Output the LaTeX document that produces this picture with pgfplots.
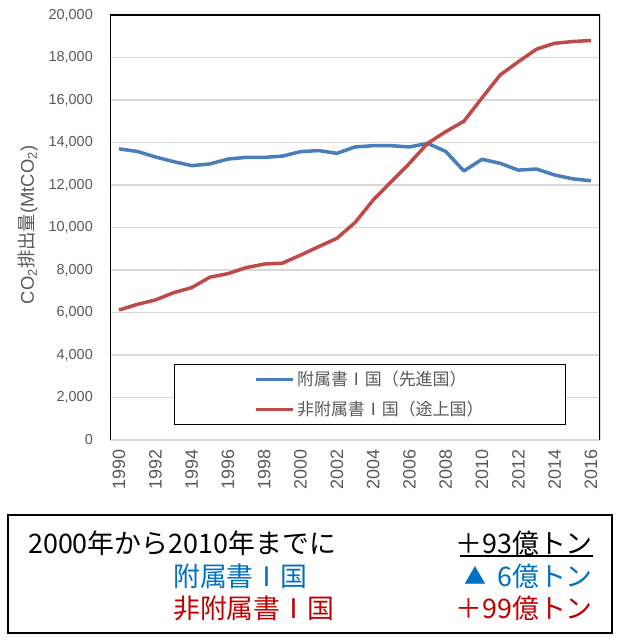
\documentclass[border=0pt]{standalone}
\usepackage{fontspec}
\setmainfont{Liberation Sans}
\newfontfamily\jp{Noto Sans CJK JP}
\usepackage{pgfplots}
\usepackage{pgfplotstable}
\pgfplotsset{compat=1.18}

\definecolor{annexI}{HTML}{4A7EBB}
\definecolor{nonannexI}{HTML}{BE4B48}
\definecolor{txtgray}{HTML}{595959}
\definecolor{gridgray}{HTML}{D9D9D9}
\definecolor{boxblue}{HTML}{0070C0}
\definecolor{boxred}{HTML}{C00000}

% CO2 emissions (MtCO2)
\pgfplotstableread{
year annexI nonannexI
1990 13700 6120
1991 13580 6380
1992 13320 6590
1993 13100 6930
1994 12910 7170
1995 12990 7660
1996 13220 7830
1997 13300 8110
1998 13300 8280
1999 13360 8320
2000 13570 8700
2001 13620 9100
2002 13490 9490
2003 13790 10230
2004 13850 11290
2005 13850 12160
2006 13790 13020
2007 13960 13960
2008 13580 14510
2009 12660 15000
2010 13210 16100
2011 13020 17180
2012 12700 17800
2013 12750 18390
2014 12470 18670
2015 12290 18750
2016 12200 18800
}\emis

\begin{document}
\begin{tikzpicture}
\path[use as bounding box] (0,0) rectangle (618bp,642bp);
\begin{axis}[
    at={(110bp,202bp)}, anchor=south west,
    scale only axis, width=490bp, height=425bp,
    xmin=1989.5, xmax=2016.5, ymin=0, ymax=20000,
    xtick={1990,1992,...,2016}, ytick={0,2000,...,20000},
    scaled y ticks=false,
    major tick length=0pt,
    axis line style={draw=none},
    ymajorgrids, grid style={gridgray, line width=1.3bp},
    /pgf/number format/assume math mode=true,
    /pgf/number format/.cd, fixed, 1000 sep={,}, /pgfplots/.cd,
    xticklabel={\pgfmathprintnumber[1000 sep={},fixed,assume math mode=true]{\tick}},
    yticklabel style={font=\fontsize{14.5}{16}\selectfont, text=txtgray, anchor=east, inner sep=0pt},
    yticklabel shift=17bp,
    xticklabel style={font=\fontsize{18}{20}\selectfont, text=txtgray, rotate=90, anchor=east, inner sep=0pt},
    xticklabel shift=9bp,
    ylabel={CO\textsubscript{2}{\jp 排出量}(MtCO\textsubscript{2})},
    every axis y label/.style={at={(rel axis cs:0,0.506)}, xshift=-82bp, rotate=90, anchor=center,
        font=\fontsize{18.5}{20}\selectfont, text=txtgray},
    legend style={at={(rel axis cs:0.1306,0.0353)}, anchor=south west, draw=black, line width=1.3bp,
        fill=white, font=\jp\fontsize{17}{20}\selectfont, text=txtgray,
        inner xsep=80bp, inner ysep=5bp, row sep=10bp},
    legend cell align=left,
    legend image code/.code={\draw[#1] (0bp,0bp) -- (37bp,0bp);},
]
\addplot[annexI, line width=3.5bp, line join=round] table[x=year, y=annexI] {\emis};
\addlegendentry{附属書Ⅰ国（先進国）}
\addplot[nonannexI, line width=3.5bp, line join=round] table[x=year, y=nonannexI] {\emis};
\addlegendentry{非附属書Ⅰ国（途上国）}
\draw[black, line width=1.8bp] (rel axis cs:0,0) -- (rel axis cs:0,1) -- (rel axis cs:1,1) -- (rel axis cs:1,0);
\end{axis}

% summary box
\draw[line width=2.5bp] (8bp,9bp) rectangle (612bp,127bp);
\begin{scope}[every node/.style={inner sep=0pt, font=\jp\fontsize{27}{30}\selectfont}]
\node[anchor=west] at (28bp,99bp) {2000年から2010年までに};
\node[anchor=west, text=boxblue] at (173bp,66bp) {附属書Ⅰ国};
\node[anchor=west, text=boxred] at (173bp,34bp) {非附属書Ⅰ国};
\node[anchor=east] at (593bp,99bp) {＋93億トン};
\node[anchor=west, text=boxblue, font=\jp\fontsize{22}{24}\selectfont] at (464bp,67bp) {▲};
\node[anchor=east, text=boxblue] at (593bp,66bp) {6億トン};
\node[anchor=east, text=boxred] at (593bp,34bp) {＋99億トン};
\end{scope}
\draw[line width=1.3bp] (460bp,86bp) -- (593bp,86bp);
\end{tikzpicture}
\end{document}
